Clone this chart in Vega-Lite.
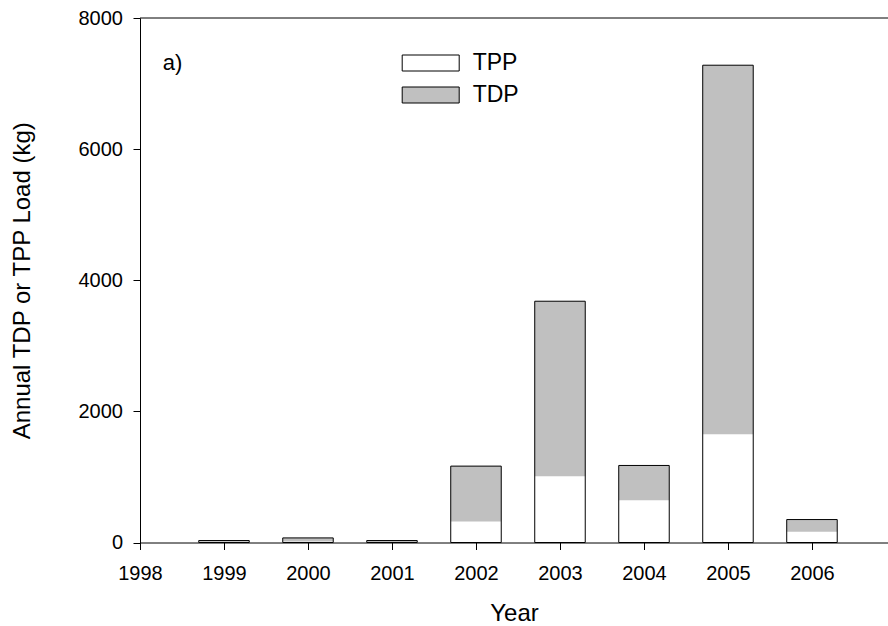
{
  "$schema": "https://vega.github.io/schema/vega-lite/v6.json",
  "width": 748,
  "height": 524.5,
  "autosize": {"type": "none"},
  "padding": {"left": 140, "top": 18, "right": 0, "bottom": 83.5},
  "background": "white",
  "config": {
    "font": "Liberation Sans",
    "view": {"stroke": null},
    "axis": {
      "domainColor": "black",
      "tickColor": "black",
      "labelColor": "black",
      "titleColor": "black",
      "grid": false,
      "tickSize": 7,
      "labelFlush": false,
      "labelOverlap": false,
      "labelFontSize": 20,
      "titleFontSize": 24,
      "titleFontWeight": "normal",
      "labelFont": "Liberation Sans",
      "titleFont": "Liberation Sans"
    }
  },
  "data": {
    "values": [
      {"year": 1999, "type": "TPP", "value": 10},
      {"year": 1999, "type": "TDP", "value": 20},
      {"year": 2000, "type": "TPP", "value": 15},
      {"year": 2000, "type": "TDP", "value": 55},
      {"year": 2001, "type": "TPP", "value": 8},
      {"year": 2001, "type": "TDP", "value": 22},
      {"year": 2002, "type": "TPP", "value": 320},
      {"year": 2002, "type": "TDP", "value": 845},
      {"year": 2003, "type": "TPP", "value": 1010},
      {"year": 2003, "type": "TDP", "value": 2670},
      {"year": 2004, "type": "TPP", "value": 645},
      {"year": 2004, "type": "TDP", "value": 530},
      {"year": 2005, "type": "TPP", "value": 1650},
      {"year": 2005, "type": "TDP", "value": 5630},
      {"year": 2006, "type": "TPP", "value": 165},
      {"year": 2006, "type": "TDP", "value": 185}
    ]
  },
  "encoding": {
    "x": {
      "field": "year",
      "type": "quantitative",
      "scale": {"domain": [1998, 2006.905], "nice": false, "zero": false, "padding": 0},
      "axis": {
        "values": [1998, 1999, 2000, 2001, 2002, 2003, 2004, 2005, 2006],
        "format": "d",
        "labelPadding": 14,
        "title": "Year",
        "titlePadding": 18
      }
    }
  },
  "layer": [
    {
      "mark": {"type": "bar", "width": 50.5, "strokeWidth": 0},
      "encoding": {
        "y": {
          "field": "value",
          "type": "quantitative",
          "aggregate": "sum",
          "stack": "zero",
          "scale": {"domain": [0, 8000], "nice": false, "padding": 0},
          "axis": {
            "values": [0, 2000, 4000, 6000, 8000],
            "format": "d",
            "labelPadding": 10.5,
            "title": "Annual TDP or TPP Load (kg)",
            "titlePadding": 44
          }
        },
        "color": {
          "field": "type",
          "type": "nominal",
          "scale": {"domain": ["TPP", "TDP"], "range": ["#ffffff", "#c0c0c0"]},
          "legend": {
            "title": null,
            "orient": "none",
            "legendX": 279.2,
            "legendY": 33.5,
            "padding": 0,
            "symbolType": "M-3.5625,-1H3.5625V1H-3.5625Z",
            "symbolSize": 256,
            "symbolStrokeColor": "black",
            "symbolStrokeWidth": 1,
            "symbolOpacity": 1,
            "symbolFillColor": null,
            "labelFontSize": 23,
            "labelOffset": 30.5,
            "labelColor": "black",
            "labelFont": "Liberation Sans",
            "rowPadding": 8
          }
        },
        "order": {"field": "type", "sort": "descending"}
      }
    },
    {
      "mark": {"type": "bar", "width": 50.5, "fill": null, "fillOpacity": 0, "stroke": "black", "strokeWidth": 1},
      "encoding": {
        "y": {"field": "value", "type": "quantitative", "aggregate": "sum"}
      }
    },
    {
      "data": {"values": [{"top": 8000}]},
      "mark": {"type": "rule", "color": "black", "strokeWidth": 1},
      "encoding": {"x": null, "y": {"field": "top", "type": "quantitative"}}
    },
    {
      "data": {"values": [{"label": "a)", "lx": 1998.27, "ly": 7310}]},
      "mark": {"type": "text", "align": "left", "baseline": "middle", "fontSize": 22, "font": "Liberation Sans", "color": "black"},
      "encoding": {
        "x": {"field": "lx", "type": "quantitative"},
        "y": {"field": "ly", "type": "quantitative"},
        "text": {"field": "label", "type": "nominal"}
      }
    }
  ]
}
